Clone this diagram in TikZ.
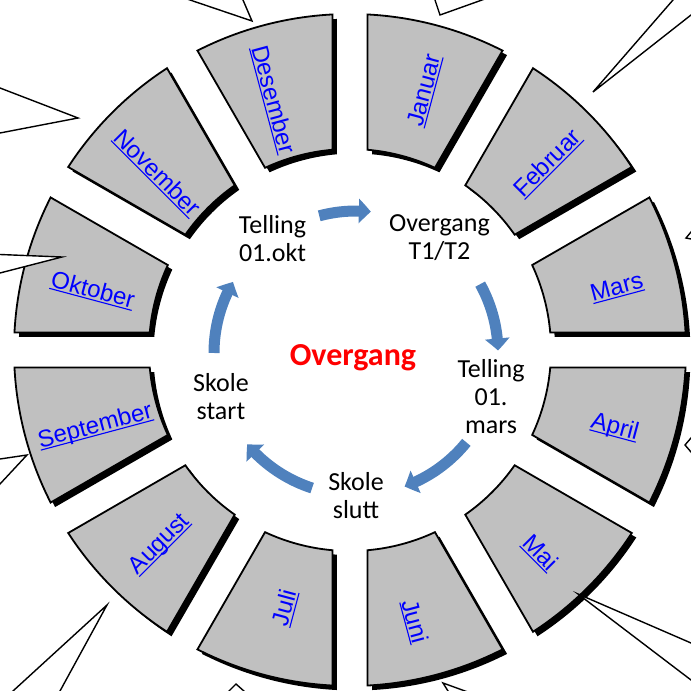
\documentclass[tikz,border=0pt]{standalone}
\usepackage{fontspec}
\setmainfont{Carlito}
\newfontfamily\arialfont{Liberation Sans}
\usetikzlibrary{arrows.meta, bending, shadows}
\definecolor{mesgris}{HTML}{C0C0C0}
\definecolor{flecha}{HTML}{4F81BD}
\newcommand{\enlace}[1]{\setbox0\hbox{#1}\rlap{\rule[-2.7pt]{\wd0}{1.1pt}}\box0}
\tikzset{
	x=1pt, y=1pt, % un pixel por punto
	mes/.style={draw=black, line width=1.8pt, fill=mesgris,
		drop shadow={shadow xshift=4.5pt, shadow yshift=-4.5pt, opacity=1, fill=black}}, % sectores del anillo
	nombre/.style={text=blue, font=\arialfont\fontsize{24}{27}\selectfont, inner sep=0pt}, % nombre del mes
	paso/.style={align=center, font=\fontsize{26}{28}\selectfont, inner sep=1pt}, % pasos del ciclo
	flujo/.style={flecha, line width=11pt, -{Triangle[width=24pt, length=12pt, bend]}}, % flechas azules
	globo/.style={draw=black, line width=1.4pt, fill=white} % puntas de llamadas
}

\begin{document}
\begin{tikzpicture}
	\useasboundingbox (0,0) rectangle (691,691);
	\coordinate (c) at (350,341); % centro del anillo
	\coordinate (p) at (356,338); % centro del ciclo
	% anillo de meses
	\begin{scope}[shift={(c)}]
		\foreach \a/\b/\r/\mes/\rot in {75/73.9/270/Januar/75, 45/43.4/272/Februar/45,
			15/13.1/274/Mars/15, -15/-16.4/276/April/-15, -45/-46.9/278/Mai/-45,
			-75/-76.6/279/Juni/-75, -105/-104.1/266/Juli/75, -135/-134.3/272/August/45,
			-165/-163.2/266/September/15, 165/166.9/264/Oktober/-15,
			135/137.5/262/November/-45, 105/107.1/262/Desember/-75} {
			\path[mes] (\a-12:336) arc[start angle=\a-12, end angle=\a+12, radius=336]
				-- (\a+10:201) arc[start angle=\a+10, end angle=\a-10, radius=201] -- cycle;
			\node[nombre, rotate=\rot] (m-\mes) at (\b:\r) {\enlace{\mes}};
		}
	\end{scope}
	% ciclo
	\begin{scope}[shift={(p)}]
		\node[paso] (okt)   at (126:142) {Telling\\01.okt};
		\node[paso] (t1t2)  at (54:142)  {Overgang\\T1/T2};
		\node[paso] (mars)  at (-18:142) {Telling\\01.\\mars};
		\node[paso] (slutt) at (-90:143) {Skole\\slutt};
		\node[paso] (start) at (198:142) {Skole\\start};
		\foreach \i/\ini/\fin in {1/105/84, 2/29/1, 3/-39/-70, 4/-108/-140, 5/180/150} {
			\coordinate (f\i) at (\ini:142);
			\draw[flujo] (f\i) arc[start angle=\ini, end angle=\fin, radius=142];
		}
	\end{scope}
	\node[text=red, font=\bfseries\fontsize{32}{36}\selectfont] (titulo) at (353,333) {Overgang};
	% puntas de llamadas
	\path[globo] (128,712) -- (252,670) -- (234,712) -- cycle;
	\path[globo] (430,706) -- (440,676) -- (524,706) -- cycle;
	\path[globo] (753,783) -- (593,599) -- (789,753) -- cycle;
	\path[globo] (-78,633) -- (78,573) -- (-78,543) -- cycle;
	\path[globo] (-62,439) -- (62,434) -- (-62,402) -- cycle;
	\path[globo] (-27,228) -- (27,236) -- (-27,178) -- cycle;
	\path[globo] (-81,-86) -- (107,86) -- (13,-86) -- cycle;
	\path[globo] (220,-9) -- (236,7) -- (254,-9) -- cycle;
	\path[globo] (453,-8) -- (443,8) -- (487,-8) -- cycle;
	\path[globo] (804,-1) -- (578,97) -- (804,-75) -- cycle;
	\path[globo] (696,465) -- (686,453) -- (696,451) -- cycle;
	\path[globo] (697,260) -- (685,246) -- (697,232) -- cycle;
\end{tikzpicture}
\end{document}
